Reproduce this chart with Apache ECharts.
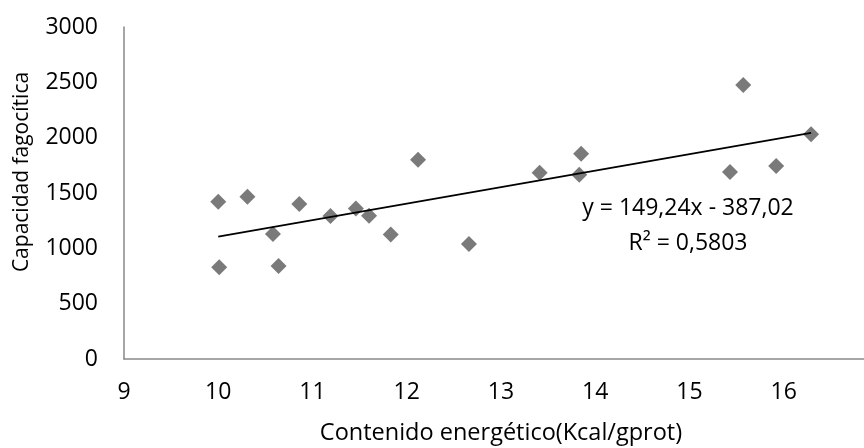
<!DOCTYPE html>
<html>
<head>
<meta charset="utf-8">
<script src="https://cdn.jsdelivr.net/npm/echarts@6/dist/echarts.min.js"></script>
<style>
  html, body { margin: 0; padding: 0; background: #fff; }
  #chart { width: 864px; height: 448px; }
</style>
</head>
<body>
<div id="chart"></div>
<script>
// energy content (Kcal/gprot) vs phagocytic capacity
const energia = [10.0, 10.01, 10.31, 10.58, 10.64, 10.86, 11.19, 11.46, 11.6, 11.83,
  12.12, 12.66, 13.41, 13.83, 13.85, 15.43, 15.57, 15.92, 16.29];
const capacidad = [1421, 828, 1466, 1129, 840, 1400, 1292, 1361, 1294, 1126,
  1800, 1039, 1683, 1664, 1855, 1689, 2475, 1743, 2030];

// linear trendline shown on the chart
const slope = 149.24;
const intercept = -387.02;
const eqLabel = 'y = 149,24x - 387,02';
const r2Label = 'R² = 0,5803';

const xTicks = [9, 10, 11, 12, 13, 14, 15, 16];
const yTicks = [0, 500, 1000, 1500, 2000, 2500, 3000];

const points = energia.map((x, i) => [x, capacidad[i]]);
const xMin = Math.min(...energia);
const xMax = Math.max(...energia);
const trend = [xMin, xMax].map(x => [x, slope * x + intercept]);

const font = '"Open Sans", sans-serif';
const axisGray = '#898989';

const chart = echarts.init(document.getElementById('chart'));
chart.setOption({
  animation: false,
  grid: {
    left: 124,
    top: 27,
    right: -14,
    bottom: 89,
    outerBoundsMode: 'none',
  },
  xAxis: {
    type: 'value',
    min: 9,
    max: 17,
    interval: 1,
    axisLine: { show: true, lineStyle: { color: axisGray, width: 1.5 } },
    axisTick: { show: false },
    splitLine: { show: false },
    axisLabel: {
      margin: 22,
      color: '#000',
      fontFamily: font,
      fontSize: 23,
      formatter: v => (xTicks.includes(v) ? String(v) : ''),
    },
    name: 'Contenido energético(Kcal/gprot)',
    nameLocation: 'middle',
    nameGap: 62,
    nameTextStyle: { color: '#000', fontFamily: font, fontSize: 23.5 },
  },
  yAxis: {
    type: 'value',
    min: 0,
    max: 3000,
    interval: 500,
    axisLine: { show: true, lineStyle: { color: axisGray, width: 1.5 } },
    axisTick: { show: false },
    splitLine: { show: false },
    axisLabel: {
      margin: 26,
      color: '#000',
      fontFamily: font,
      fontSize: 23,
      formatter: v => (yTicks.includes(v) ? String(v) : ''),
    },
  },
  graphic: [
    {
      type: 'text',
      x: 22,
      y: 172,
      rotation: Math.PI / 2,
      style: {
        text: 'Capacidad fagocítica',
        fill: '#000',
        font: '21px "Open Sans", sans-serif',
        align: 'center',
        verticalAlign: 'middle',
      },
    },
    {
      type: 'text',
      x: 688,
      y: 208,
      style: {
        text: eqLabel,
        fill: '#000',
        font: '23px "Open Sans", sans-serif',
        align: 'center',
        verticalAlign: 'middle',
      },
    },
    {
      type: 'text',
      x: 688,
      y: 243,
      style: {
        text: r2Label,
        fill: '#000',
        font: '23px "Open Sans", sans-serif',
        align: 'center',
        verticalAlign: 'middle',
      },
    },
  ],
  series: [
    {
      type: 'line',
      data: trend,
      showSymbol: false,
      lineStyle: { color: '#000', width: 1.8 },
      z: 3,
    },
    {
      type: 'scatter',
      data: points,
      symbol: 'diamond',
      symbolSize: [16, 16],
      itemStyle: { color: '#595959' },
      z: 2,
    },
  ],
});
</script>
</body>
</html>
